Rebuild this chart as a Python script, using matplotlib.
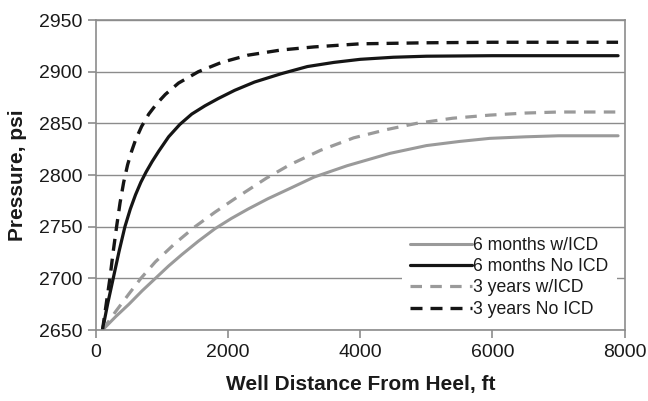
import matplotlib
matplotlib.use("Agg")
import matplotlib.pyplot as plt

plt.rcParams["font.family"] = ["Liberation Sans", "DejaVu Sans"]

# Distance from heel (ft) and pressure (psi) for each case
x_6m_icd = [100, 300, 500, 700, 900, 1100, 1300, 1550, 1800, 2050, 2300, 2600,
            2935, 3300, 3800, 4450, 5000, 5500, 5960, 6500, 7000, 7500, 7900]
p_6m_icd = [2650, 2663, 2675, 2688, 2700, 2712, 2723, 2736, 2748, 2758, 2767, 2777,
            2787, 2798, 2809, 2821, 2828.5, 2832.5, 2835.5, 2837, 2838, 2838, 2838]

x_6m_noicd = [100, 180, 262, 350, 439, 520, 600, 680, 760, 850, 950, 1100,
              1270, 1450, 1650, 1850, 2100, 2400, 2800, 3200, 3600, 4000,
              4500, 5000, 6000, 7000, 7900]
p_6m_noicd = [2650, 2676, 2700, 2726, 2750, 2767, 2781, 2793, 2803, 2813, 2823, 2837,
              2849, 2859, 2867, 2874, 2882, 2890, 2898, 2905, 2909, 2912,
              2914, 2915, 2915.5, 2915.5, 2915.5]

x_3y_icd = [100, 300, 500, 680, 900, 1200, 1500, 1800, 2100, 2580, 2935, 3400,
            3900, 4400, 4850, 5400, 5960, 6500, 7000, 7900]
p_3y_icd = [2650, 2668, 2685, 2700, 2716, 2734, 2750, 2764, 2777, 2797, 2810, 2824,
            2836, 2844, 2850, 2855, 2858, 2860, 2861, 2861]

x_3y_noicd = [100, 160, 212, 260, 313, 365, 420, 480, 540, 600, 691, 800, 920,
              1050, 1250, 1550, 1900, 2300, 2800, 3300, 4000, 5000, 6000, 7000, 7900]
p_3y_noicd = [2650, 2677, 2700, 2725, 2750, 2773, 2793, 2810, 2823, 2834, 2847,
              2859, 2869, 2878, 2889, 2900, 2909, 2916, 2921, 2924, 2927, 2928,
              2928.5, 2928.5, 2928.5]

series_labels = ["6 months w/ICD", "6 months No ICD", "3 years w/ICD", "3 years No ICD"]
x_ticks = [0, 2000, 4000, 6000, 8000]
y_ticks = [2650, 2700, 2750, 2800, 2850, 2900, 2950]

fig = plt.figure(figsize=(6.48, 4.01), dpi=100)
ax = fig.add_axes([0.148, 0.177, 0.816, 0.773])

gray = "#9a9a9a"
black = "#151515"
ax.plot(x_6m_icd, p_6m_icd, color=gray, lw=2.2, label=series_labels[0],
        solid_capstyle="round", solid_joinstyle="round")
ax.plot(x_6m_noicd, p_6m_noicd, color=black, lw=2.3, label=series_labels[1],
        solid_capstyle="round", solid_joinstyle="round")
ax.plot(x_3y_icd, p_3y_icd, color=gray, lw=2.3, label=series_labels[2],
        dashes=(3.6, 2.6))
ax.plot(x_3y_noicd, p_3y_noicd, color=black, lw=2.4, label=series_labels[3],
        dashes=(3.6, 2.4))

ax.set_xlim(0, 8000)
ax.set_ylim(2650, 2950)
ax.set_xticks(x_ticks)
ax.set_yticks(y_ticks)
ax.yaxis.grid(True, color="#8c8c8c", lw=1.0)
ax.set_axisbelow(True)

for s in ax.spines.values():
    s.set_color("#8c8c8c")
    s.set_linewidth(1.2)
ax.tick_params(axis="both", direction="out", length=6, width=1.2,
               color="#8c8c8c", labelsize=14, labelcolor="#1a1a1a", pad=4)

ax.set_xlabel("Well Distance From Heel, ft", fontsize=15, fontweight="bold",
              color="#1a1a1a", labelpad=10)
ax.set_ylabel("Pressure, psi", fontsize=15, fontweight="bold",
              color="#1a1a1a", labelpad=8)

leg = ax.legend(loc="lower right", bbox_to_anchor=(0.993, 0.0), fontsize=12.7,
                frameon=True, fancybox=False, framealpha=1.0,
                handlelength=3.5, handletextpad=0.1, labelspacing=0.24,
                borderpad=0.45, borderaxespad=0.25)
leg.get_frame().set_facecolor("white")
leg.get_frame().set_edgecolor("none")
for t in leg.get_texts():
    t.set_color("#1a1a1a")

fig.savefig("out.png", dpi=100)
